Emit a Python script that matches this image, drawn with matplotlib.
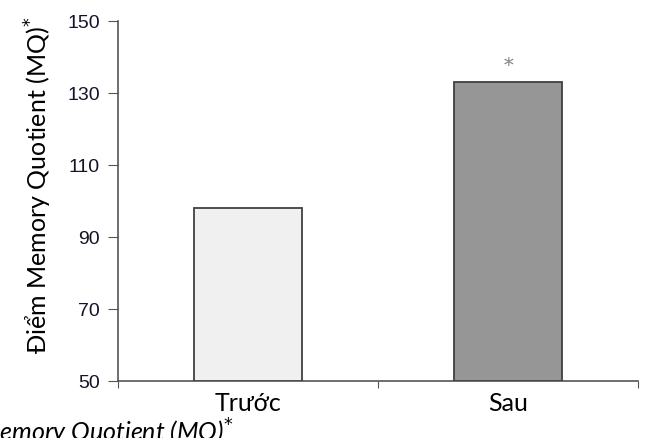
from matplotlib import pyplot as plt
import numpy as np

# data
categories = ["Trước", "Sau"]
scores = [98, 133]
bar_colors = ["#f0f0f0", "#969696"]
y_ticks = [50, 70, 90, 110, 130, 150]

fig = plt.figure(figsize=(6.48, 4.38), dpi=100)
ax = fig.add_axes([0.182, 0.130, 0.803, 0.822])

x = np.arange(len(categories))
ax.bar(x, np.array(scores) - 50, bottom=50, width=0.415,
       color=bar_colors, edgecolor="#404040", linewidth=1.3, zorder=3)

ax.set_xlim(-0.5, 1.5)
ax.set_ylim(50, 150)
ax.set_yticks(y_ticks)
ax.set_yticklabels([str(t) for t in y_ticks], fontsize=14,
                   family="Liberation Sans", color="#141428")

# category boundary ticks on the x axis, labels centred on bars
ax.set_xticks([-0.5, 0.5, 1.5])
ax.set_xticklabels([])
ax.set_xticks(x, minor=True)
ax.set_xticklabels(categories, minor=True, fontsize=18, family="Lato")
ax.tick_params(axis="x", which="minor", length=0, pad=8)
ax.tick_params(axis="x", which="major", length=5, color="#555555")
ax.tick_params(axis="y", length=7, color="#555555", pad=6)

for s in ["top", "right"]:
    ax.spines[s].set_visible(False)
for s in ["left", "bottom"]:
    ax.spines[s].set_color("#555555")
    ax.spines[s].set_linewidth(1.2)

ax.set_ylabel("Điểm Memory Quotient (MQ)$^{*}$", fontsize=18, family="Lato")
ax.yaxis.set_label_coords(-0.122, 0.545)

# significance mark above the second bar
ax.text(x[1], scores[1] + 2, "*", ha="center", va="bottom",
        fontsize=14, color="#808080", family="DejaVu Serif")

# clipped caption at the bottom edge
fig.text(0.36, -0.009, "Memory Quotient (MQ)$^{*}$", ha="right", va="baseline",
         fontsize=18, style="italic", family="Lato")

fig.savefig("out.png", dpi=100)
